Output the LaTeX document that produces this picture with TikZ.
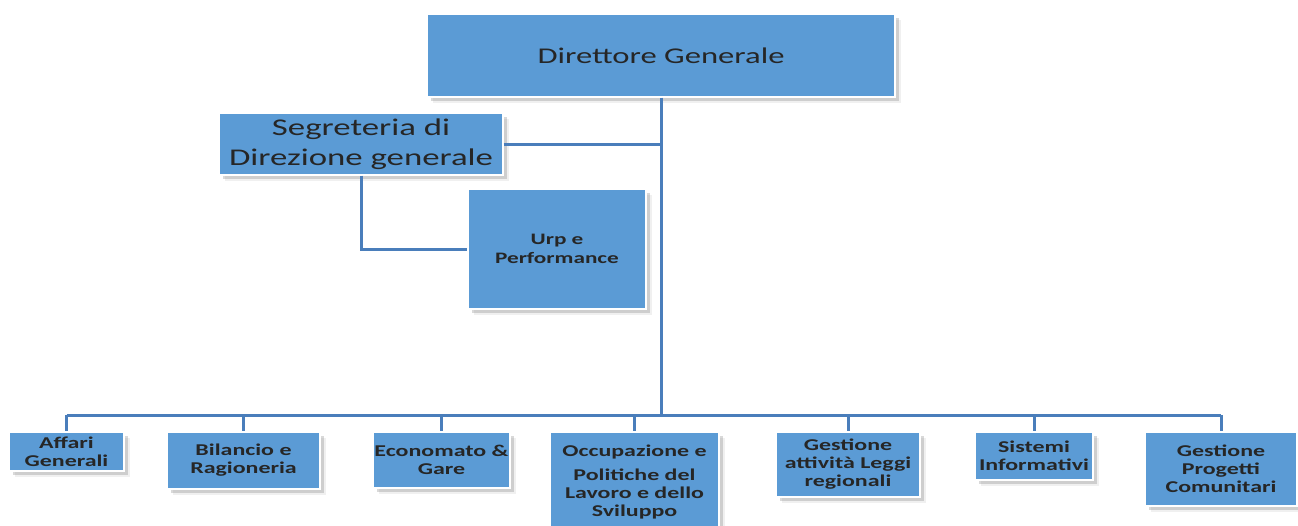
\documentclass[tikz,border=0pt]{standalone}
\usepackage{fontspec}
\setmainfont{Carlito}[FakeStretch=1.45]
\usetikzlibrary{positioning,shadows}
\definecolor{boxblue}{RGB}{91,155,213}
\definecolor{lineblue}{RGB}{74,126,187}
\tikzset{
  box/.style={draw=white, line width=1.2pt, fill=boxblue, inner sep=0pt, align=center,
    text=black!85,
    drop shadow={shadow xshift=6pt, shadow yshift=-6pt, opacity=.12},
    drop shadow={shadow xshift=3.5pt, shadow yshift=-3.5pt, opacity=.3}},
  unit/.style={box, font=\bfseries\fontsize{16.5}{18}\selectfont},
  link/.style={draw=lineblue, line width=3pt}
}
\begin{document}
\begin{tikzpicture}[x=1pt, y=-1pt]
\useasboundingbox (0,0) rectangle (1298,525);
\coordinate (bus) at (661,415);

\node[box, minimum width=468, minimum height=83, font=\fontsize{22.5}{26}\selectfont] (dg) at (661,55.5) {Direttore Generale};
\node[box, minimum width=284, minimum height=62, font=\fontsize{24}{30}\selectfont] (seg) at (361,144) {Segreteria di\\Direzione generale};
\node[box, minimum width=178, minimum height=120, font=\bfseries\fontsize{16}{19}\selectfont] (urp) at (557,249) {Urp e\\Performance};

% uffici
\node[unit, minimum width=115, minimum height=39] (aff) at (66.5,451.5) {Affari\\Generali};
\node[unit, minimum width=153, minimum height=57] (bil) at (243.5,460.5) {Bilancio e\\Ragioneria};
\node[unit, minimum width=137, minimum height=56] (eco) at (441.5,460) {Economato \&\\Gare};
\node[unit, minimum width=169, minimum height=100] (occ) at (634.5,482) {Occupazione e\\[6pt]Politiche del\\Lavoro e dello\\Sviluppo};
\node[unit, minimum width=144, minimum height=65] (gal) at (848,464.5) {Gestione\\attività Leggi\\regionali};
\node[unit, minimum width=118, minimum height=48] (sis) at (1034,456) {Sistemi\\Informativi};
\node[unit, minimum width=152, minimum height=74] (gpc) at (1221,469) {Gestione\\Progetti\\Comunitari};

\draw[link] (dg.south) -- (bus);
\draw[link] (seg.east) -- (seg.east -| dg.south);
\draw[link] (seg.south) |- (urp.west);
\draw[link] (bus -| aff.north) -- (bus -| gpc.north);
\foreach \n in {aff,bil,eco,occ,gal,sis,gpc}
  \draw[link] (bus -| \n.north) -- (\n.north);
\end{tikzpicture}
\end{document}
